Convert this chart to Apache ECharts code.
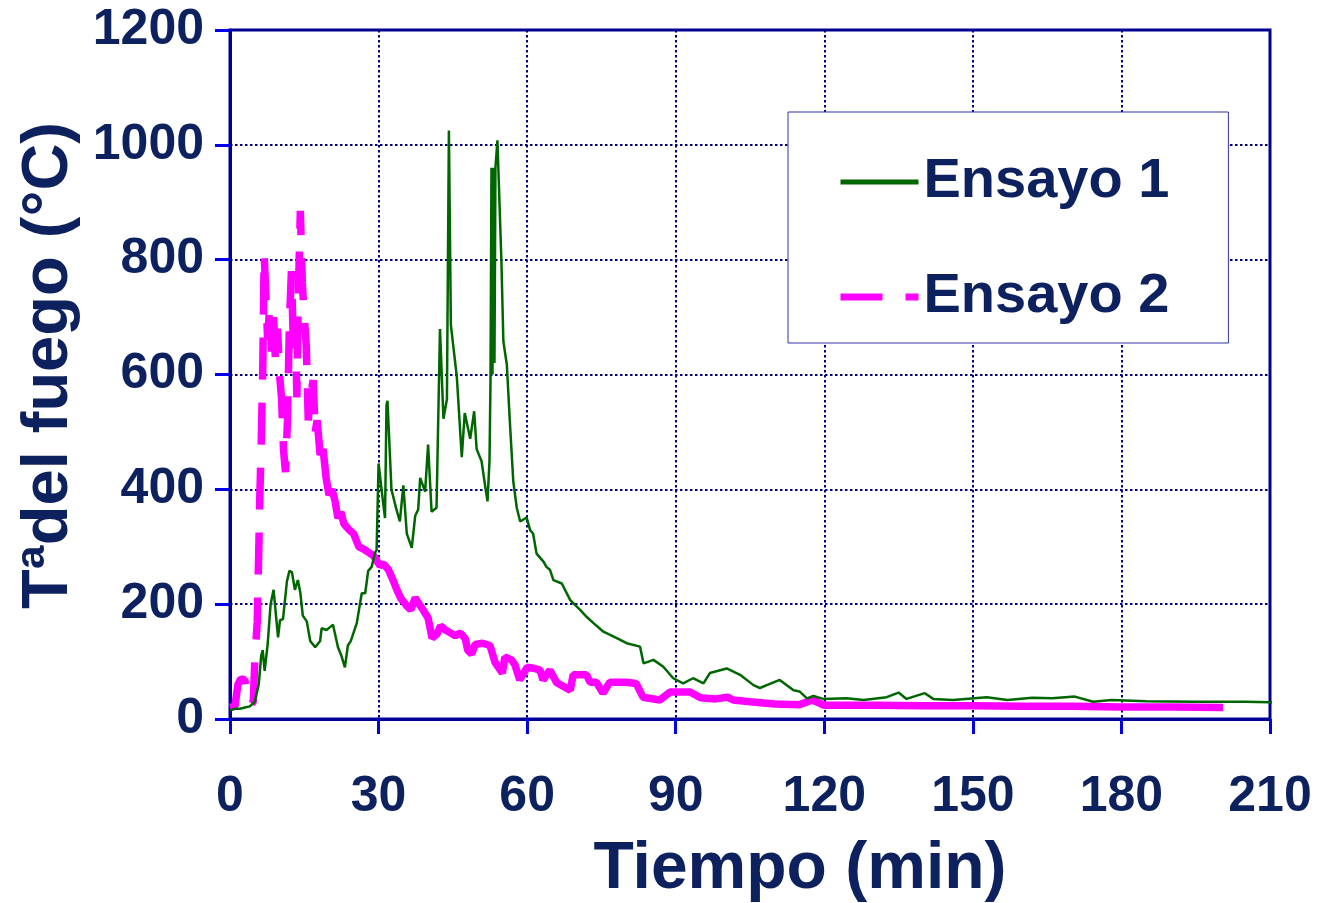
<!DOCTYPE html>
<html>
<head>
<meta charset="utf-8">
<script src="https://cdn.jsdelivr.net/npm/echarts@6/dist/echarts.min.js"></script>
<style>
  html, body { margin: 0; padding: 0; background: #ffffff; }
  #chart { width: 1324px; height: 903px; }
</style>
</head>
<body>
<div id="chart"></div>
<script>
// ---- Data ----
const xTicks = [0, 30, 60, 90, 120, 150, 180, 210];
const yTicks = [0, 200, 400, 600, 800, 1000, 1200];

// Ensayo 1 (green, solid)
const time1 = [0, 1, 2, 3, 4, 5, 5.8, 6.3, 6.6, 7.0, 7.6, 8.2, 8.8, 9.2, 9.7, 10.1, 10.7, 11.5, 12.0, 12.5,
  13.1, 13.7, 14.2, 14.7, 15.5, 16.2, 17.2, 18.2, 18.5, 19.5, 20.2, 20.8, 21.8, 22.5, 23.2, 23.8, 24.4, 25.6,
  26.6, 27.3, 27.9, 28.6, 29.3, 29.6, 30.0, 30.6, 31.3, 31.6, 31.8, 32.6, 33.6, 34.3, 35.0, 35.7, 36.7, 37.4,
  38.0, 38.4, 39.4, 40.0, 40.7, 41.7, 42.4, 43.1, 43.8, 44.2, 44.6, 45.0, 45.8, 46.8, 47.4, 48.5, 49.3, 49.8,
  50.8, 51.5, 52.0, 52.4, 52.6, 52.8, 53.0, 53.2, 53.4, 53.6, 54.0, 54.8, 55.2, 55.9, 56.5, 57.2, 57.9, 58.6,
  58.9, 59.9, 60.6, 61.2, 61.9, 63.3, 63.9, 64.6, 65.3, 67.0, 68.7, 70.7, 72.0, 73.4, 75.4, 78.1, 80.1, 82.8,
  83.5, 85.5, 87.5, 89.5, 91.5, 93.5, 95.6, 96.9, 100.3, 103, 105.7, 107, 108.4, 111, 113.8, 115, 116.5,
  117.8, 119.8, 124.5, 127.9, 132.6, 135, 136.6, 140.3, 142, 146, 152.8, 157, 162, 166, 170.6, 174.3, 178,
  185, 195, 205, 210, 215.4];
const temp1 = [15, 18, 18, 20, 22, 30, 60, 110, 120, 84, 130, 200, 225, 222, 142, 172, 174, 240, 258, 256,
  225, 242, 220, 180, 170, 136, 125, 136, 158, 155, 160, 164, 125, 110, 90, 128, 136, 167,
  219, 219, 258, 265, 290, 294, 445, 400, 350, 547, 554, 400, 365, 344, 407, 323, 298, 354,
  365, 420, 396, 478, 361, 368, 679, 523, 557, 1025, 686, 686, 596, 456, 533, 488, 536, 470,
  449, 407, 379, 450, 589, 960, 600, 960, 620, 960, 1008, 798, 658, 617, 519, 414, 368, 344,
  341, 351, 329, 323, 288, 274, 265, 260, 242, 236, 207, 190, 178, 167, 152, 141, 132, 126,
  97, 103, 91, 71, 62, 71, 62, 80, 88, 77, 59, 54, 59, 68, 50, 48, 36,
  40, 35, 36, 33, 38, 46, 35, 45, 35, 33, 38, 33, 37, 36, 39, 30, 33,
  31, 30, 30, 29, 26];

// Ensayo 2 (magenta, dashed)
const time2 = [0, 1, 1.6, 2.2, 3.0, 3.6, 4.2, 4.7, 5.0, 5.5, 5.8, 6.0, 6.3, 6.6, 6.9, 7.3, 7.6, 8.0, 8.4, 8.8,
  9.2, 9.6, 10.0, 10.4, 10.8, 11.2, 11.6, 12.0, 12.4, 12.8, 13.2, 13.5, 13.8, 14.2, 14.6, 15.0, 15.4, 15.8,
  16.2, 16.8, 17.2, 17.6, 18.2, 18.8, 19.4, 20.0, 20.6, 21.2, 21.8, 22.4, 23.0, 24.0, 25.0, 26.0, 27.0, 28.0,
  29.0, 30.3, 31.0, 32.0, 33.0, 33.7, 34.5, 35.7, 36.5, 37.4, 38.2, 39.0, 40.0, 40.8, 41.8, 42.5, 43.5, 44.5,
  45.5, 46.5, 47.5, 48.0, 48.8, 49.5, 51.0, 52.5, 53.5, 55.0, 55.5, 56.8, 57.5, 58.5, 60.0, 61.5, 62.6, 63.2,
  64.6, 66.0, 68.7, 69.3, 72.0, 72.7, 74.0, 75.3, 76.7, 80.0, 82.0, 83.4, 86.8, 88.9, 92.9, 95.0, 98.0, 100.5,
  101.6, 105.0, 110.0, 115.0, 117.6, 120.0, 130.0, 140.0, 150.0, 160.0, 170.0, 180.0, 190.0, 200.5];
const temp2 = [20, 22, 60, 70, 68, 30, 25, 30, 100, 170, 290, 380, 480, 600, 810, 810, 660, 720, 640, 700,
  620, 680, 600, 560, 470, 430, 520, 690, 780, 650, 700, 560, 740, 885, 760, 700, 650, 520,
  560, 590, 500, 520, 460, 470, 420, 390, 400, 380, 350, 360, 340, 330, 322, 300, 296, 290,
  284, 267, 270, 260, 240, 225, 210, 197, 190, 211, 200, 190, 176, 141, 148, 162, 155, 150,
  145, 150, 140, 120, 113, 130, 132, 128, 99, 80, 108, 103, 95, 68, 90, 88, 85, 68,
  85, 63, 50, 77, 77, 64, 64, 45, 64, 64, 62, 38, 33, 47, 47, 37, 35, 38,
  33, 30, 26, 25, 33, 24, 24, 23, 23, 22, 22, 21, 21, 20];

const seriesNames = ['Ensayo 1', 'Ensayo 2'];

// ---- Build ----
const pairs = (t, v) => t.map((x, i) => [x, v[i]]);
const data1 = pairs(time1, temp1);
const data2 = pairs(time2, temp2);
const SPLIT_T = 17.2;
const data2Dashed = data2.filter(p => p[0] <= SPLIT_T);
const data2Solid = data2.filter(p => p[0] >= SPLIT_T);

const NAVY = '#0d215e';
const FONT = '"Liberation Sans", Arial, sans-serif';

const chart = echarts.init(document.getElementById('chart'), null, { renderer: 'canvas' });
chart.setOption({
  animation: false,
  backgroundColor: '#ffffff',
  grid: {
    left: 230, right: 54, top: 30, bottom: 184,
    containLabel: false,
    outerBoundsMode: 'none',
    show: true, borderColor: '#000099', borderWidth: 3, backgroundColor: 'transparent'
  },
  legend: {
    orient: 'vertical',
    left: 788, top: 112,
    padding: [40, 59, 16, 49],
    itemGap: 55,
    itemWidth: 78,
    itemHeight: 20,
    backgroundColor: '#ffffff',
    borderColor: '#3333aa',
    borderWidth: 1,
    borderRadius: 0,
    selectedMode: false,
    textStyle: { fontFamily: FONT, fontWeight: 'bold', fontSize: 56, color: NAVY, lineHeight: 60 },
    data: [
      { name: seriesNames[0], itemStyle: { opacity: 0 }, lineStyle: { width: 5, color: '#006600' } },
      { name: seriesNames[1], itemStyle: { opacity: 0 }, lineStyle: { width: 7, color: '#ff00ff', type: [42, 23] } }
    ]
  },
  xAxis: {
    type: 'value',
    min: xTicks[0], max: xTicks[xTicks.length - 1], interval: 30,
    name: 'Tiempo (min)',
    nameLocation: 'middle',
    nameGap: 118,
    nameTextStyle: { fontFamily: FONT, fontWeight: 'bold', fontSize: 66, color: NAVY, padding: [0, 0, 0, 100] },
    axisLine: { show: true, onZero: false, lineStyle: { color: '#000099', width: 3 } },
    axisTick: { show: true, length: 15, lineStyle: { color: '#0000ee', width: 3 } },
    axisLabel: { fontFamily: FONT, fontWeight: 'bold', fontSize: 50, color: NAVY, margin: 53 },
    splitLine: { show: true, lineStyle: { color: '#000080', width: 2, type: [2.5, 2.5] } }
  },
  yAxis: {
    type: 'value',
    min: yTicks[0], max: yTicks[yTicks.length - 1], interval: 200,
    name: 'Tªdel fuego (°C)',
    nameLocation: 'middle',
    nameRotate: 90,
    nameGap: 130,
    nameTextStyle: { fontFamily: FONT, fontWeight: 'bold', fontSize: 65, color: NAVY, padding: [0, 0, 0, 18] },
    axisLine: { show: true, onZero: false, lineStyle: { color: '#000099', width: 3 } },
    axisTick: { show: true, length: 15, lineStyle: { color: '#0000ee', width: 3 } },
    axisLabel: { fontFamily: FONT, fontWeight: 'bold', fontSize: 50, color: NAVY, margin: 26,
      padding: [8, 0, 0, 0], formatter: v => String(v) },
    splitLine: { show: true, lineStyle: { color: '#000080', width: 2, type: [2.5, 2.5] } }
  },
  series: [
    {
      name: seriesNames[1], type: 'line', data: data2Dashed, symbol: 'none', z: 2,
      lineStyle: { color: '#ff00ff', width: 7.5, type: [42, 23] }, itemStyle: { color: '#ff00ff' }
    },
    {
      name: seriesNames[1], type: 'line', data: data2Solid, symbol: 'none', z: 2,
      lineStyle: { color: '#ff00ff', width: 7.5 }, itemStyle: { color: '#ff00ff' }
    },
    {
      name: seriesNames[0], type: 'line', data: data1, symbol: 'none', z: 3, clip: false,
      lineStyle: { color: '#006600', width: 2.5 }, itemStyle: { color: '#006600' }
    }
  ]
});
</script>
</body>
</html>
